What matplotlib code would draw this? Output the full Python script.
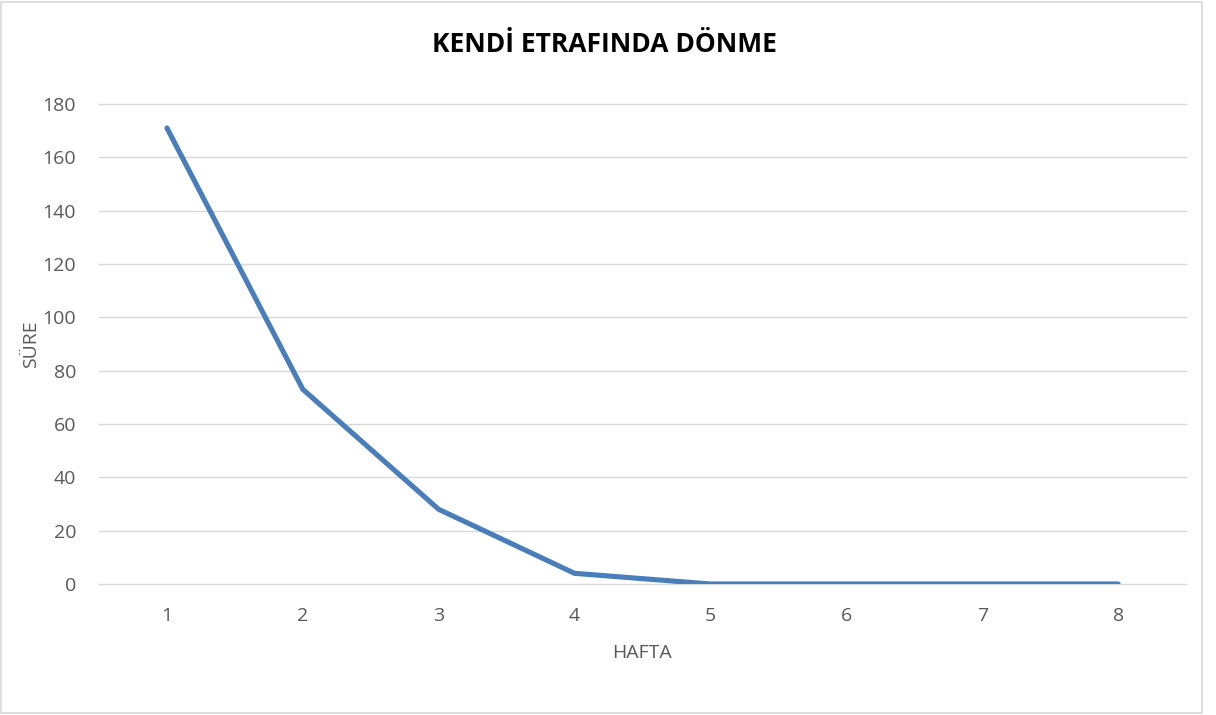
import matplotlib.pyplot as plt
from matplotlib.patches import Rectangle

weeks = [1, 2, 3, 4, 5, 6, 7, 8]
sure = [171, 73, 28, 4, 0, 0, 0, 0]
y_ticks = [0, 20, 40, 60, 80, 100, 120, 140, 160, 180]

plt.rcParams['font.family'] = ['Open Sans', 'DejaVu Sans']

fig = plt.figure(figsize=(12.16, 7.15), dpi=100)
fig.patches.append(Rectangle((1 / 1216, 2 / 715), 1201 / 1216, 711 / 715,
                             transform=fig.transFigure, fill=False,
                             edgecolor="#d9d9d9", linewidth=1.2))

ax = fig.add_axes([99 / 1216, 131 / 715, 1087 / 1216, 480 / 715])
ax.plot(weeks, sure, color="#4a7ebb", linewidth=3.7, solid_capstyle="round",
        solid_joinstyle="round", zorder=3)

ax.set_xlim(0.5, 8.5)
ax.set_ylim(0, 180)
ax.set_yticks(y_ticks)
ax.set_xticks(weeks)
ax.grid(axis="y", color="#d9d9d9", linewidth=1.0)
for gl in ax.get_ygridlines():
    gl.set_clip_on(False)
ax.set_axisbelow(True)
for s in ax.spines.values():
    s.set_visible(False)
ax.tick_params(length=0, labelsize=14, labelcolor="#595959")
ax.tick_params(axis="x", pad=16.5)
ax.tick_params(axis="y", pad=16.5)

ax.set_xlabel("HAFTA", fontsize=14, color="#595959", labelpad=14)
ax.set_ylabel("SÜRE", fontsize=14, color="#595959", labelpad=2)
fig.text(604 / 1216, 1 - 45 / 715, "KENDİ ETRAFINDA DÖNME", ha="center", va="center",
         fontsize=19, fontweight="bold", color="black")

fig.savefig("out.png", dpi=100)
